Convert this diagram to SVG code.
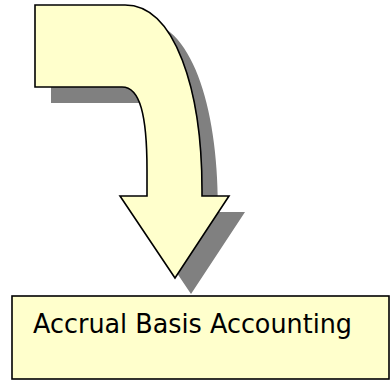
<svg xmlns="http://www.w3.org/2000/svg" width="391" height="380" viewBox="0 0 391 380">
<style>
.shape{fill:#FFFFCC;stroke:#000;stroke-width:1.6;stroke-linejoin:miter}
.shadow{fill:#808080}
.label{font-family:"DejaVu Sans",sans-serif;font-size:27px;fill:#000}
</style>
<defs>
<path id="arrowPath" d="M35,5 L125,5 C175,5 202,90 202,190 L202,196 L229,196 L175,278 L120,196 L147,196 L147,170 C147,115 140,87 122,87 L35,87 Z"/>
</defs>
<g id="arrow">
<use href="#arrowPath" class="shadow" transform="translate(16,16)"/>
<use href="#arrowPath" class="shape"/>
</g>
<g id="box">
<rect x="12" y="296" width="377" height="83" class="shape"/>
<text x="33" y="333" class="label" textLength="319" lengthAdjust="spacingAndGlyphs">Accrual Basis Accounting</text>
</g>
<g id="connectors"/>
</svg>
